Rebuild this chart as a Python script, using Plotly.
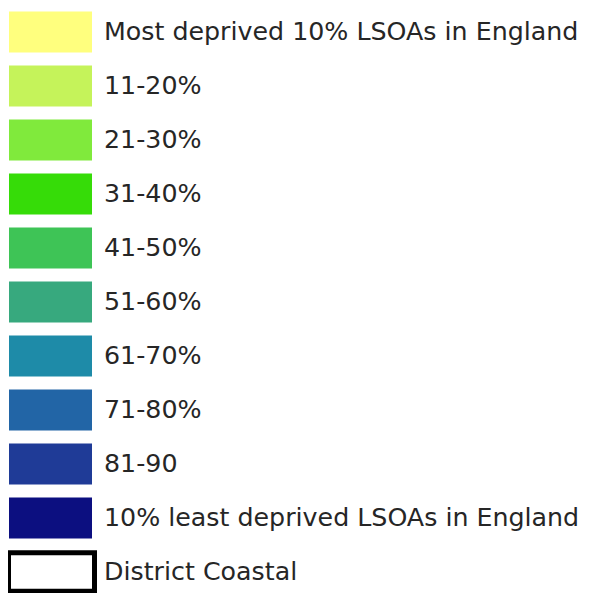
import plotly.graph_objects as go

labels = [
    "Most deprived 10% LSOAs in England",
    "11-20%",
    "21-30%",
    "31-40%",
    "41-50%",
    "51-60%",
    "61-70%",
    "71-80%",
    "81-90",
    "10% least deprived LSOAs in England",
    "District Coastal",
]
fill_colors = [
    "#FFFF7E", "#C5F35A", "#80EA3C", "#36DC08", "#3EC456",
    "#37A97E", "#1E8BA8", "#2265A6", "#1F3B97", "#0C0F80", "#FFFFFF",
]

n = len(labels)
idx = list(range(n))
border_colors = ["rgba(0,0,0,0)"] * (n - 1) + ["#000000"]
border_widths = [0] * (n - 1) + [5]
bar_base = [9] * (n - 1) + [8.5]
bar_len = [83] * (n - 1) + [86]
bar_thick = [0.76] * (n - 1) + [0.71]

fig = go.Figure()
fig.add_trace(go.Bar(
    orientation="h",
    y=idx,
    x=bar_len,
    base=bar_base,
    width=bar_thick,
    marker=dict(color=fill_colors, line=dict(color=border_colors, width=border_widths)),
    hoverinfo="skip",
    showlegend=False,
))
fig.add_trace(go.Scatter(
    x=[104] * n,
    y=[i + 0.04 for i in idx],
    mode="text",
    text=labels,
    textposition="middle right",
    textfont=dict(family="DejaVu Sans", size=25.3, color="#262626"),
    hoverinfo="skip",
    showlegend=False,
))

# page body has an 8px margin, so the figure is 8px smaller and ranges start at 8
fig.update_layout(
    width=587, height=585,
    margin=dict(l=0, r=0, t=0, b=0),
    paper_bgcolor="white", plot_bgcolor="white",
    xaxis=dict(range=[8, 595], visible=False, fixedrange=True),
    yaxis=dict(range=[10.389, -0.4444], visible=False, fixedrange=True),
)
fig.write_html("out.html")
